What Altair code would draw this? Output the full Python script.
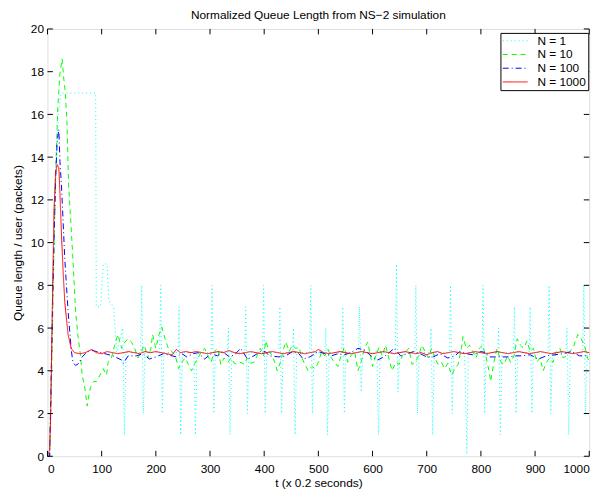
import altair as alt
import pandas as pd

# ---------------- data ----------------
series_names = ["N = 1", "N = 10", "N = 100", "N = 1000"]

n1_t = [0, 4, 8, 14, 20, 25, 89, 90, 98, 103, 110, 113, 122, 128, 139, 142, 145,
        172, 174, 177, 180, 207, 209, 212, 215, 241, 243, 246, 249, 268, 270, 273, 276,
        302, 304, 307, 310, 332, 334, 337, 340, 364, 366, 369, 372, 397, 399, 402, 405,
        427, 429, 432, 435, 452, 454, 457, 460, 484, 486, 489, 492, 512, 514, 517, 520,
        543, 545, 548, 551, 574, 576, 579, 582, 606, 608, 611, 614, 642, 644, 647, 650,
        678, 680, 683, 686, 706, 708, 711, 714, 742, 744, 747, 750, 769, 771, 774, 777,
        802, 804, 807, 810, 831, 833, 836, 839, 860, 862, 865, 868, 889, 891, 894, 897,
        924, 926, 929, 932, 957, 959, 962, 965, 988, 990, 993, 996, 1000]
n1_q = [0, 0, 6, 12, 16, 17, 17, 7, 7, 9, 9, 7.3, 7, 4.85, 6, 1, 4.85,
        4.85, 8, 2, 4.85, 4.85, 8, 2, 4.85, 4.85, 7, 1, 4.85, 4.85, 5, 1, 4.85,
        4.85, 8, 2, 4.85, 4.85, 6, 1, 4.85, 4.85, 7, 2, 4.85, 4.85, 8, 2, 4.85,
        4.85, 7, 2, 4.85, 4.85, 6, 1, 4.85, 4.85, 8, 2, 4.85, 4.85, 6, 1, 4.85,
        4.85, 7, 2, 4.85, 4.85, 7, 3, 4.85, 4.85, 5, 1, 4.85, 4.85, 9, 3, 4.85,
        4.85, 8, 2, 4.85, 4.85, 6, 1, 4.85, 4.85, 8, 2, 4.85, 4.85, 4, 0.1, 4.85,
        4.85, 8, 2, 4.85, 4.85, 6, 1, 4.85, 4.85, 7, 2, 4.85, 4.85, 7, 2, 4.85,
        4.85, 8, 2, 4.85, 4.85, 6, 1, 4.85, 4.85, 8, 2, 4.85, 4.85]

n10_t = [0, 4, 7, 10, 13, 16, 19, 23, 27, 30, 33, 36, 39, 43, 46, 52, 56, 61, 64, 70,
         73, 79, 85, 91, 97, 103, 109, 112, 118, 124, 130, 137, 143, 149, 155, 161, 167,
         173, 179, 185, 191, 194, 200, 206, 211, 217, 223, 230, 236, 242, 248, 254, 260,
         266, 272, 278, 284, 290, 296, 302, 308, 314, 320, 326, 333, 339, 345, 351, 357,
         363, 369, 375, 381, 387, 393, 399, 403, 409, 415, 421, 424, 430, 436, 440, 446,
         452, 458, 464, 470, 475, 481, 488, 494, 500, 506, 512, 518, 524, 530, 536, 542,
         548, 554, 560, 567, 573, 579, 585, 591, 597, 600, 606, 612, 618, 624, 630, 636,
         643, 649, 655, 661, 667, 673, 679, 685, 691, 697, 703, 709, 715, 721, 727, 733,
         739, 746, 752, 758, 764, 767, 773, 779, 785, 791, 797, 803, 809, 815, 818, 824,
         830, 837, 843, 849, 855, 861, 867, 873, 879, 885, 891, 897, 903, 909, 915, 921,
         927, 933, 939, 946, 952, 958, 964, 970, 976, 979, 985, 991, 997, 1000]
n10_q = [0, 0, 3, 7, 11, 14, 16.3, 17.9, 18.6, 17.7, 17.0, 15.6, 12.7, 11.0, 9.7, 6.75,
         5.7, 4.7, 3.8, 3.04, 2.35, 3.2, 3.5, 3.5, 3.8, 4.1, 3.8, 4.4, 4.6, 5.2, 5.7, 5.05,
         5.35, 5.5, 5.35, 5.05, 4.6, 4.9, 5.2, 4.6, 5.05, 5.7, 5.05, 5.7, 6.05, 5.5, 5.05,
         4.9, 4.7, 4.1, 4.4, 4.6, 4.3, 4.0, 4.35, 4.6, 4.9, 5.05, 4.7, 4.4, 4.9, 5.05, 4.3,
         4.6, 4.4, 4.6, 4.35, 4.3, 4.4, 4.3, 4.6, 4.35, 4.4, 4.7, 5.05, 4.7, 5.4, 4.9, 4.7,
         4.3, 4.0, 4.4, 5.05, 5.35, 4.9, 5.2, 5.05, 5.1, 4.6, 4.3, 4.0, 4.2, 4.1, 4.4, 4.9,
         4.7, 5.0, 4.6, 4.4, 4.2, 4.7, 5.1, 4.4, 4.7, 4.9, 4.0, 4.4, 5.05, 5.35, 4.6, 4.2,
         4.7, 5.1, 4.7, 5.2, 4.6, 4.0, 4.4, 4.3, 4.7, 4.9, 5.05, 4.3, 4.4, 4.7, 5.2, 4.9,
         4.6, 5.05, 4.6, 4.3, 4.4, 4.1, 4.35, 3.8, 4.1, 4.3, 5.05, 5.6, 5.05, 5.2, 4.9, 4.6,
         5.05, 5.2, 4.7, 4.0, 3.5, 4.4, 5.05, 4.4, 4.3, 4.7, 4.4, 4.7, 5.5, 5.2, 5.05, 5.4,
         4.9, 5.05, 4.4, 4.6, 4.0, 4.4, 4.6, 4.4, 4.9, 5.05, 4.6, 4.7, 4.9, 5.05, 5.5, 5.7,
         5.5, 5.2, 4.6, 4.4]

n100_t = [0, 4, 7, 11, 15, 18, 21, 23, 26, 32, 38, 44, 47, 52, 58, 64, 70, 79, 91, 106,
          121, 137, 140, 149, 164, 176, 188, 200, 214, 230, 238, 248, 257, 269, 278, 290,
          302, 314, 323, 336, 345, 357, 369, 381, 393, 402, 409, 427, 440, 452, 464, 472,
          484, 500, 512, 524, 536, 548, 560, 573, 585, 597, 609, 621, 640, 652, 664, 676,
          688, 700, 712, 724, 739, 752, 761, 773, 785, 800, 809, 815, 834, 852, 864, 876,
          891, 906, 921, 937, 952, 967, 982, 994, 1000]
n100_q = [0, 0, 4, 9, 13, 14.8, 15.3, 13.8, 12.6, 9.2, 6.8, 4.95, 4.4, 4.25, 4.35, 4.65,
          4.8, 4.97, 4.9, 4.8, 4.7, 4.5, 4.35, 4.7, 4.7, 4.8, 4.55, 4.65, 4.8, 4.7, 4.65,
          4.8, 4.65, 4.8, 4.85, 4.55, 4.8, 4.7, 4.9, 4.65, 4.75, 5.05, 4.55, 4.7, 4.9, 4.9,
          4.7, 4.65, 4.7, 4.9, 4.8, 4.55, 4.65, 4.9, 4.8, 4.7, 4.8, 4.75, 4.85, 5.05, 4.97,
          4.7, 4.5, 4.65, 5.05, 4.7, 4.8, 4.9, 4.8, 4.65, 4.65, 4.8, 4.6, 4.7, 4.9, 4.8,
          4.75, 4.9, 4.85, 4.65, 4.65, 4.65, 4.7, 4.7, 4.75, 4.55, 4.7, 4.75, 4.8, 4.9, 4.7,
          4.7, 4.75]

n1000_t = [0, 4, 6, 9, 12, 15, 18, 21, 23, 26, 29, 32, 38, 44, 50, 60, 70, 82, 90, 100,
           110, 120, 130, 140, 150, 160, 170, 180, 190, 200, 210, 220, 230, 238, 245, 255,
           265, 275, 285, 295, 305, 315, 325, 335, 345, 355, 365, 375, 385, 395, 405, 415,
           425, 435, 445, 455, 465, 475, 485, 495, 500, 510, 520, 530, 540, 550, 560, 570,
           580, 590, 600, 610, 620, 630, 640, 650, 660, 670, 680, 690, 700, 710, 720, 730,
           740, 750, 760, 770, 780, 790, 800, 810, 820, 830, 840, 850, 860, 870, 880, 890,
           900, 910, 920, 930, 940, 950, 960, 970, 980, 990, 1000]
n1000_q = [0, 0.3, 2, 7, 11.5, 13.3, 13.65, 13.5, 12.3, 10.3, 8.6, 7.2, 5.7, 5.03, 4.85,
           4.8, 4.85, 5.0, 4.85, 4.8, 4.9, 4.85, 4.8, 4.85, 4.9, 4.85, 4.8, 4.9, 4.85, 4.9,
           4.85, 4.8, 4.75, 5.0, 4.85, 4.9, 4.85, 4.9, 4.85, 4.8, 4.85, 4.9, 4.85, 4.95, 4.85,
           4.8, 4.85, 4.9, 4.85, 4.8, 4.85, 4.9, 4.85, 4.8, 4.85, 4.9, 4.85, 4.8, 4.85, 4.9,
           5.0, 4.85, 4.8, 4.85, 4.9, 4.85, 4.8, 4.85, 4.9, 4.85, 4.8, 4.85, 4.9, 4.85, 4.8,
           4.85, 4.9, 4.85, 4.8, 4.85, 4.75, 4.85, 4.9, 4.8, 4.85, 4.9, 4.85, 4.8, 4.85, 4.9,
           4.85, 4.8, 4.85, 4.9, 4.85, 4.8, 4.85, 4.9, 4.85, 4.8, 4.85, 4.9, 4.85, 4.8, 4.85,
           4.9, 4.85, 4.8, 4.85, 4.9, 4.85]

x_ticks = [0, 100, 200, 300, 400, 500, 600, 700, 800, 900, 1000]
y_ticks = [0, 2, 4, 6, 8, 10, 12, 14, 16, 18, 20]

series_colors = ["#00FFFF", "#00FF00", "#0000FF", "#FF0000"]
series_dashes = [[1, 3], [5, 4], [6, 3, 1, 3], [1, 0]]

# ---------------- build table ----------------
rows = []
for name, ts, qs in zip(series_names, [n1_t, n10_t, n100_t, n1000_t],
                        [n1_q, n10_q, n100_q, n1000_q]):
    for t, q in zip(ts, qs):
        rows.append({"t": t, "q": q, "series": name})
df = pd.DataFrame(rows)
xt = pd.DataFrame({"t": x_ticks})
yt = pd.DataFrame({"q": y_ticks})

W, H = 549, 433
FONT = "Liberation Sans"
TL = 5.5

xscale = alt.Scale(domain=[0, 1000], nice=False, zero=False)
yscale = alt.Scale(domain=[0, 20], nice=False, zero=False)
axis_common = dict(ticks=False, tickSize=0, domain=False, grid=False,
                   labelFont=FONT, labelFontSize=12, labelColor="black",
                   titleFont=FONT, titleFontSize=12, titleFontWeight="normal",
                   titleColor="black")
xaxis = alt.Axis(values=x_ticks, format="d", title="t (x 0.2 seconds)",
                 labelPadding=7, titlePadding=4, **axis_common)
yaxis = alt.Axis(values=y_ticks, format="d", title="Queue length / user (packets)",
                 labelPadding=4, titlePadding=6, **axis_common)

legend = alt.Legend(
    title=None, orient="none", legendX=459, legendY=4,
    symbolType="M-2.1,0L2.1,0", symbolSize=144, symbolStrokeWidth=1,
    symbolOffset=7, labelOffset=16,
    labelFontSize=12, labelFont=FONT, labelColor="black",
    strokeColor="black", fillColor="white", padding=1.5,
    rowPadding=0.9,
)

lines = alt.Chart(df).mark_line(strokeWidth=1).encode(
    x=alt.X("t:Q", scale=xscale, axis=xaxis),
    y=alt.Y("q:Q", scale=yscale, axis=yaxis),
    color=alt.Color("series:N", scale=alt.Scale(domain=series_names, range=series_colors),
                    legend=legend),
    strokeDash=alt.StrokeDash("series:N",
                              scale=alt.Scale(domain=series_names, range=series_dashes),
                              legend=legend),
    order=alt.Order("t:Q"),
)

bottom = alt.Chart(xt).mark_rule(color="black", strokeWidth=1).encode(
    x=alt.X("t:Q", scale=xscale, axis=xaxis), y=alt.value(H), y2=alt.value(H - TL))
top = alt.Chart(xt).mark_rule(color="black", strokeWidth=1).encode(
    x=alt.X("t:Q", scale=xscale, axis=xaxis), y=alt.value(0), y2=alt.value(TL))
left = alt.Chart(yt).mark_rule(color="black", strokeWidth=1).encode(
    y=alt.Y("q:Q", scale=yscale, axis=yaxis), x=alt.value(0), x2=alt.value(TL))
right = alt.Chart(yt).mark_rule(color="black", strokeWidth=1).encode(
    y=alt.Y("q:Q", scale=yscale, axis=yaxis), x=alt.value(W), x2=alt.value(W - TL))

chart = alt.layer(lines, bottom, top, left, right).properties(
    width=W, height=H,
    title=alt.TitleParams("Normalized Queue Length from NS\u22122 simulation", fontSize=12,
                          fontWeight="normal", font=FONT, color="black", offset=1,
                          anchor="middle"),
    autosize=alt.AutoSizeParams(type="none"),
    padding={"left": 40, "top": 18, "right": 19, "bottom": 34},
).configure_view(stroke="black", strokeWidth=1).configure(background="white")

chart.save("out.html", embed_options={"renderer": "svg", "actions": False})
